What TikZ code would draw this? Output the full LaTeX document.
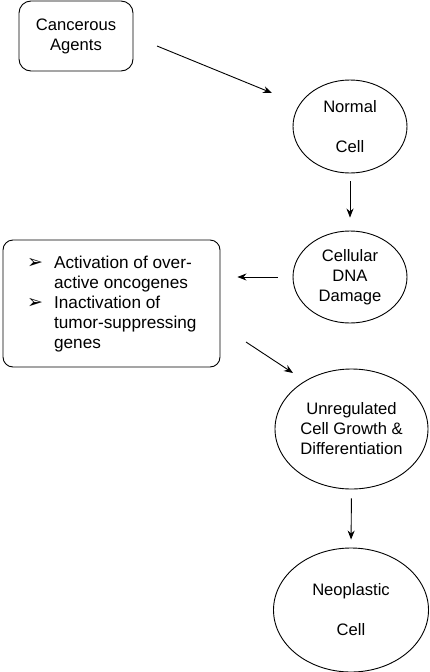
\documentclass[tikz,border=0pt]{standalone}
\usepackage{fontspec}
\setmainfont{Liberation Sans}
\newfontfamily\dejavu{DejaVu Sans}
\usetikzlibrary{shapes.geometric,arrows.meta}
\begin{document}
\begin{tikzpicture}[x=1pt,y=-1pt,
  txt/.style={font=\fontsize{16.6}{20}\selectfont, align=center, inner sep=0pt},
  cell/.style={txt, draw, ellipse, line width=0.9pt},
  rbox/.style={txt, draw, rounded corners=12pt, line width=0.9pt},
  arr/.style={line width=0.9pt, -{Stealth[length=9pt,width=7pt]}}]
\useasboundingbox (0,0) rectangle (429,672);
\node[rbox, minimum width=114pt, minimum height=70pt] (ca) at (76,36) {Cancerous\\Agents};
\node[cell, minimum width=114pt, minimum height=93pt] (nc) at (350,126.5) {Normal\\[20pt]Cell};
\node[cell, minimum width=114pt, minimum height=92pt] (dna) at (350,277) {Cellular\\DNA\\Damage};
\node[rbox, rounded corners=10pt, minimum width=217pt, minimum height=127pt] (mech) at (111.5,303.5) {};
\node[txt, font=\fontsize{17.2}{20}\selectfont, anchor=west, align=left] (list) at (27,304) {\begin{tabular}{@{}l@{\hspace{11pt}}l@{}}
{\dejavu\fontsize{19}{20}\selectfont ➢} & Activation of over-\\
 & active oncogenes\\
{\dejavu\fontsize{19}{20}\selectfont ➢} & Inactivation of\\
 & tumor-suppressing\\
 & genes
\end{tabular}};
\node[cell, minimum width=153pt, minimum height=120pt] (ug) at (351.5,429) {Unregulated\\Cell Growth \&\\Differentiation};
\node[cell, minimum width=155pt, minimum height=124pt] (neo) at (351,610) {Neoplastic\\[20pt]Cell};
\coordinate (a1s) at (157,46);
\coordinate (a1e) at (272,93);
\coordinate (a4s) at (246,342);
\coordinate (a4e) at (293,373);
\draw[arr] (a1s) -- (a1e);
\draw[arr, shorten <=8pt, shorten >=13pt] (nc.south) -- (dna.north);
\draw[arr, shorten <=15pt, shorten >=17pt] (dna.west) -- (dna.west -| mech.east);
\draw[arr] (a4s) -- (a4e);
\draw[arr, shorten <=9pt, shorten >=8pt] (ug.south) -- (neo.north);
\end{tikzpicture}
\end{document}
